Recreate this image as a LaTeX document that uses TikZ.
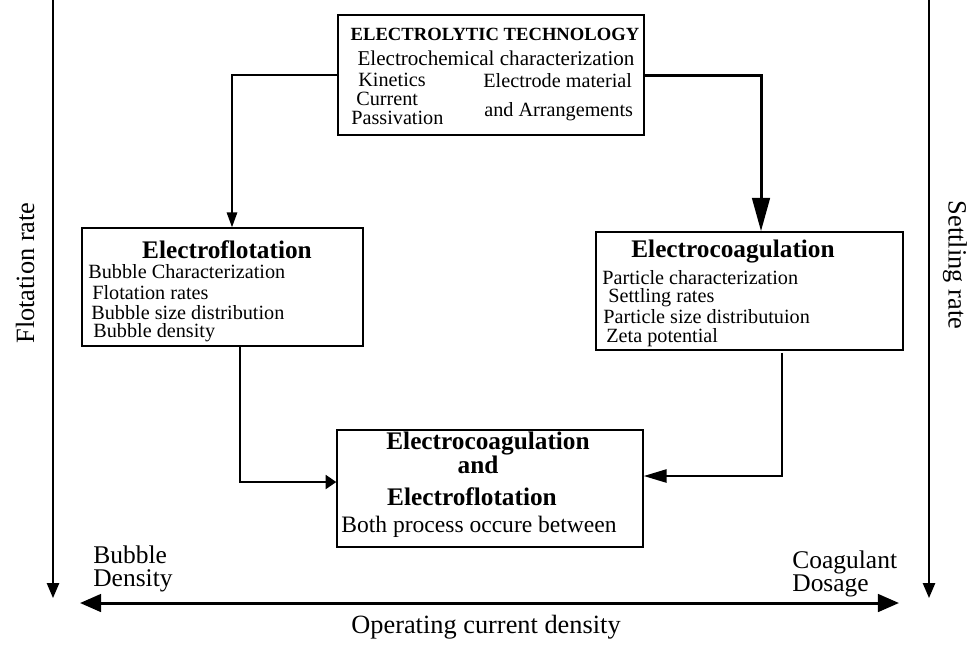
\documentclass[tikz,border=0pt]{standalone}
\usepackage{fontspec}
\setmainfont{Liberation Serif}
\usetikzlibrary{positioning,calc,arrows.meta}
\tikzset{x=0.02cm,y=-0.02cm,
bx/.style={rectangle,draw,line width=0.9pt,inner sep=0pt},
hd/.style={font=\fontsize{14.4}{15}\selectfont\bfseries,inner sep=0pt},
tx/.style={font=\fontsize{11.5}{12}\selectfont,inner sep=0pt,anchor=west},
lb/.style={font=\fontsize{15}{16}\selectfont,inner sep=0pt},
ends/.style={font=\fontsize{14.5}{13}\selectfont,inner sep=0pt,anchor=west,align=left},
axis/.style={line width=0.85pt,-{Triangle[length=8.5pt,width=7pt]}},
thin/.style={line width=0.85pt,-{Triangle[length=8.5pt,width=6pt]}},
thick/.style={line width=1.7pt,-{Triangle[length=19pt,width=10pt]}},
}

\begin{document}
\begin{tikzpicture}
\useasboundingbox (0,0) rectangle (969,647);

% boxes
\node[bx,minimum width=6.12cm,minimum height=2.4cm] (tech) at (491,75) {};
\node[bx,minimum width=5.62cm,minimum height=2.36cm] (flot) at (222.5,287) {};
\node[bx,minimum width=6.14cm,minimum height=2.36cm] (coag) at (749.5,291) {};
\node[bx,minimum width=6.12cm,minimum height=2.34cm] (both) at (490,488.5) {};

% electrolytic technology
\node[font=\fontsize{10.6}{11}\selectfont\bfseries,inner sep=0pt] (techhd) at (495,34) {ELECTROLYTIC TECHNOLOGY};
\node[tx,anchor=center,font=\fontsize{12}{13}\selectfont] (tech1) at (496,58) {Electrochemical characterization};
\node[tx] (tech2) at (358,80) {Kinetics};
\node[tx] (tech3) at (356,99) {Current};
\node[tx] (tech4) at (351,118) {Passivation};
\node[tx] (tech5) at (483,81) {Electrode material};
\node[tx] (tech6) at (484,112) {and Arrangements};

% electroflotation
\node[hd] (flothd) at (227,250) {Electroflotation};
\node[tx] (flot1) at (88,272) {Bubble Characterization};
\node[tx] (flot2) at (92,293) {Flotation rates};
\node[tx] (flot3) at (91,313) {Bubble size distribution};
\node[tx] (flot4) at (93,333) {Bubble density};

% electrocoagulation
\node[hd] (coaghd) at (733,252) {Electrocoagulation};
\node[tx] (coag1) at (602,278) {Particle characterization};
\node[tx] (coag2) at (608,298) {Settling rates};
\node[tx] (coag3) at (603,317) {Particle size distributuion};
\node[tx] (coag4) at (606,338) {Zeta potential};

% both
\node[hd] (both1) at (488,443) {Electrocoagulation};
\node[hd] (both2) at (478,465) {and};
\node[hd] (both3) at (472,497) {Electroflotation};
\node[tx,anchor=center,font=\fontsize{13.4}{14}\selectfont] (both4) at (479,527) {Both process occure between};

% side and bottom labels
\node[lb,rotate=90] (flrate) at (25,273) {Flotation rate};
\node[lb,rotate=-90] (strate) at (955,265) {Settling rate};
\node[ends] (bubden) at (93,569) {Bubble\\Density};
\node[ends] (coados) at (792,574) {Coagulant\\Dosage};
\node[lb] (opcur) at (486,627) {Operating current density};

\coordinate (fltop) at (53,0);
\coordinate (flbot) at (53,598);
\coordinate (sttop) at (929,0);
\coordinate (stbot) at (929,598);
\coordinate (cdl) at (80,603);
\coordinate (cdr) at (899,603);

% connectors
\draw[thin] (tech.west) -| ($(flot.north)+(9.5,0)$);
\draw[thick] (tech.east) -| ($(coag.north)+(11.5,0)$);
\draw[line width=1pt,-{Triangle[length=6pt,width=8pt]}] ($(flot.south)+(17.5,0)$) |- ($(both.west)+(0,-6.5)$);
\draw[line width=1.1pt,-{Triangle[length=13pt,width=7.5pt]}] ($(coag.south)+(32.5,2)$) |- ($(both.east)+(0,-12.5)$);
\draw[axis] (fltop) -- (flbot);
\draw[axis] (sttop) -- (stbot);
\draw[line width=1.7pt,{Triangle[length=12pt,width=10pt]}-{Triangle[length=12pt,width=10pt]}] (cdl) -- (cdr);
\end{tikzpicture}
\end{document}
